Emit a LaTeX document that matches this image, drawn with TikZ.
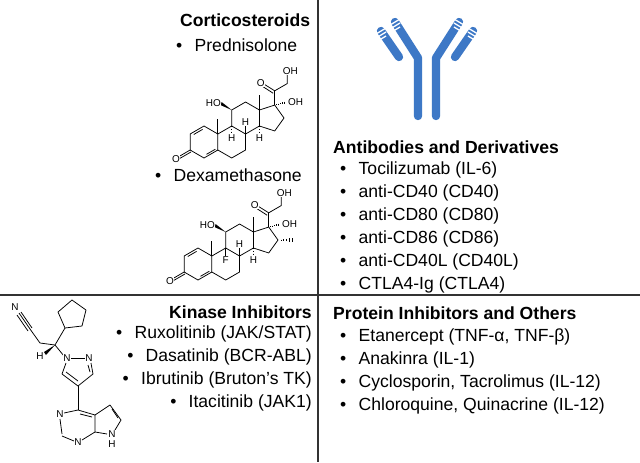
\documentclass[tikz,border=0pt]{standalone}
\usepackage{fontspec}
\setmainfont{Liberation Sans}
\usetikzlibrary{calc}
\definecolor{abblue}{HTML}{3D78C6}
\definecolor{divgray}{HTML}{333333}
\tikzset{
  txt/.style={anchor=west,inner sep=0pt,font=\fontsize{15}{17}\selectfont},
  hd/.style={anchor=west,inner sep=0pt,font=\fontsize{15}{17}\selectfont\bfseries},
  bond/.style={line width=0.65pt,line join=round},
  atom/.style={inner sep=0.5pt,fill=white,font=\fontsize{8.5}{9}\selectfont},
  ab/.style={abblue,line width=0.25cm,line cap=round,line join=round},
  stripe/.style={white,line width=1.1pt}
}
\newcommand{\steroid}[1]{%
  \draw[bond] (0,1)--(0.866,0.5)--(0.866,-0.5)--(0,-1)--(-0.866,-0.5)--(-0.866,0.5)--cycle;
  \draw[bond] ($(0,1)!0.18!(-0.866,0.5)+(0.07,-0.12)$)--($(-0.866,0.5)!0.18!(0,1)+(0.07,-0.12)$);
  \draw[bond] ($(0,-1)!0.18!(0.866,-0.5)+(0,0.14)$)--($(0.866,-0.5)!0.18!(0,-1)+(0,0.14)$);
  \draw[bond] (0.866,0.5)--(1.732,1)--(2.598,0.5)--(2.598,-0.5)--(1.732,-1)--(0.866,-0.5);
  \draw[bond] (1.732,1)--(1.732,2)--(2.598,2.5)--(3.464,2)--(3.464,1)--(2.598,0.5);
  \draw[bond] (3.464,2)--(4.42,2.31)--(5.0,1.5)--(4.42,0.69)--(3.464,1);
  \draw[bond] (-0.866,-0.5)--(-1.6,-0.93);
  \draw[bond] (-0.81,-0.62)--(-1.5,-1.02);
  \node[atom] (o3) at (-1.75,-1.05) {O};
  \draw[bond] (0.866,0.5)--(0.866,1.45);
  \draw[bond] (3.464,2)--(3.464,2.95);
  \fill (1.732,2)--(1.05,2.3)--(1.1,2.5)--cycle;
  \node[atom,anchor=east] (ho) at (1.1,2.42) {HO};
  \draw[bond] (4.42,2.31)--(4.42,3.2);
  \draw[bond] (4.42,3.2)--(3.7,3.65);
  \draw[bond] (4.32,3.05)--(3.62,3.5);
  \node[atom] (o20) at (3.55,3.7) {O};
  \draw[bond] (4.42,3.2)--(5.2,3.65)--(5.2,4.25);
  \node[atom] (oh21) at (5.4,4.45) {OH};
  \foreach \t in {0.15,0.3,...,0.9}{\draw[bond] ($(4.42,2.31)!\t!(5.2,2.5)+(0,{0.1*\t})$)--($(4.42,2.31)!\t!(5.2,2.5)-(0,{0.1*\t})$);}
  \node[atom,anchor=west] (oh17) at (5.2,2.5) {OH};
  \draw[bond] (2.598,0.5)--(2.598,1.05);
  \node[atom] (h8) at (2.598,1.25) {H};
  \draw[bond,dashed,dash pattern=on 1.2pt off 1.2pt] (3.464,1)--(3.464,0.45);
  \node[atom] (h14) at (3.464,0.25) {H};
  #1
}
\begin{document}
\begin{tikzpicture}[x=0.03cm,y=-0.03cm]
\useasboundingbox (0,0) rectangle (640,462);
\fill[white] (0,0) rectangle (640,462);
\draw[divgray,line width=1.6pt] (318,0)--(318,462);
\draw[divgray,line width=1.6pt] (0,295)--(640,295);

\node[hd] (cort) at (180,20) {Corticosteroids};
\node[txt] (pred) at (176,45) {\textbullet\hspace{0.7em}Prednisolone};
\node[txt] (dexa) at (155,175) {\textbullet\hspace{0.7em}Dexamethasone};
\begin{scope}[shift={(204,142)},scale=16,yscale=-1]
 \steroid{\draw[bond,dashed,dash pattern=on 1.2pt off 1.2pt] (1.732,1)--(1.732,0.45);
  \node[atom] (h9) at (1.732,0.25) {H};}
\end{scope}
\begin{scope}[shift={(198,264)},scale=16,yscale=-1]
 \steroid{\draw[bond] (1.732,1)--(1.732,0.45);
  \node[atom] (f9) at (1.732,0.25) {F};
  \foreach \t in {0.2,0.4,...,1.0}{\draw[bond] ($(5.0,1.5)!\t!(5.9,1.5)+(0,{0.12*\t})$)--($(5.0,1.5)!\t!(5.9,1.5)-(0,{0.12*\t})$);}}
\end{scope}

\draw[ab] (395,22)--(418,58)--(418,116);
\draw[ab] (459,22)--(436,58)--(436,116);
\draw[ab] (381,31)--(399,57);
\draw[ab] (473,31)--(455,57);
\foreach \d in {0,4,8}{
  \draw[stripe] ($(395,22)+(-5,{3+\d})$)--($(395,22)+(5,{-3+\d})$);
  \draw[stripe] ($(381,31)+(-5,{3+\d})$)--($(381,31)+(5,{-3+\d})$);
  \draw[stripe] ($(459,22)+(5,{3+\d})$)--($(459,22)+(-5,{-3+\d})$);
  \draw[stripe] ($(473,31)+(5,{3+\d})$)--($(473,31)+(-5,{-3+\d})$);
}
\node[hd] (abh) at (333,147) {Antibodies and Derivatives};
\foreach \y/\t [count=\i] in {170/Tocilizumab (IL-6),193/anti-CD40 (CD40),216/anti-CD80 (CD80),239/anti-CD86 (CD86),262/anti-CD40L (CD40L),285/CTLA4-Ig (CTLA4)}
  \node[txt] (ab\i) at (340,\y) {\textbullet\hspace{0.7em}\t};

\node[hd,anchor=east] (kin) at (312,312) {Kinase Inhibitors};
\node[txt,anchor=east] (k1) at (312,334) {\textbullet\hspace{0.7em}Ruxolitinib (JAK/STAT)};
\node[txt,anchor=east] (k2) at (312,357) {\textbullet\hspace{0.7em}Dasatinib (BCR-ABL)};
\node[txt,anchor=east] (k3) at (312,380) {\textbullet\hspace{0.7em}Ibrutinib (Bruton's TK)};
\node[txt,anchor=east] (k4) at (312,403) {\textbullet\hspace{0.7em}Itacitinib (JAK1)};

\node[atom] (nn) at (15,307) {N};
\draw[bond] (19,313)--(30,329);
\draw[bond] (17,315)--(28,331);
\draw[bond] (21,312)--(32,328);
\draw[bond] (30,329)--(40,343)--(55,345);
\draw[bond] (55,345)--(65,328);
\draw[bond] (65,328)--(58,312)--(72,300)--(86,310)--(82,326)--cycle;
\fill (55,345)--(44,352)--(46,355)--cycle;
\node[atom] (hh) at (40,356) {H};
\draw[bond] (55,345)--(64,356);
\node[atom] (n1) at (67,358) {N};
\node[atom] (n2) at (89,358) {N};
\draw[bond] (71,358)--(85,358);
\draw[bond] (66,363)--(62,374)--(78,386)--(93,374)--(91,363);
\draw[bond] (66,372)--(78,381);
\draw[bond] (90,372)--(88,365);
\draw[bond] (78,386)--(78,410);
\draw[bond] (78,410)--(64,413);
\node[atom] (n3) at (60,414) {N};
\draw[bond] (60,419)--(62,434);
\draw[bond] (62,436)--(74,441);
\node[atom] (n4) at (78,442) {N};
\draw[bond] (82,440)--(95,432)--(95,415)--(78,410);
\draw[bond] (80,414)--(92,417);
\draw[bond] (95,415)--(110,405)--(121,420)--(115,430);
\draw[bond] (112,409)--(118,418);
\node[atom] (n7) at (112,434) {N};
\node[atom] (h7) at (112,444) {H};
\draw[bond] (95,432)--(107,434);

\node[hd] (prot) at (333,313) {Protein Inhibitors and Others};
\foreach \y/\t [count=\i] in {337/{Etanercept (TNF-α, TNF-β)},360/Anakinra (IL-1),383/{Cyclosporin, Tacrolimus (IL-12)},406/{Chloroquine, Quinacrine (IL-12)}}
  \node[txt] (p\i) at (340,\y) {\textbullet\hspace{0.7em}\t};
\end{tikzpicture}
\end{document}
